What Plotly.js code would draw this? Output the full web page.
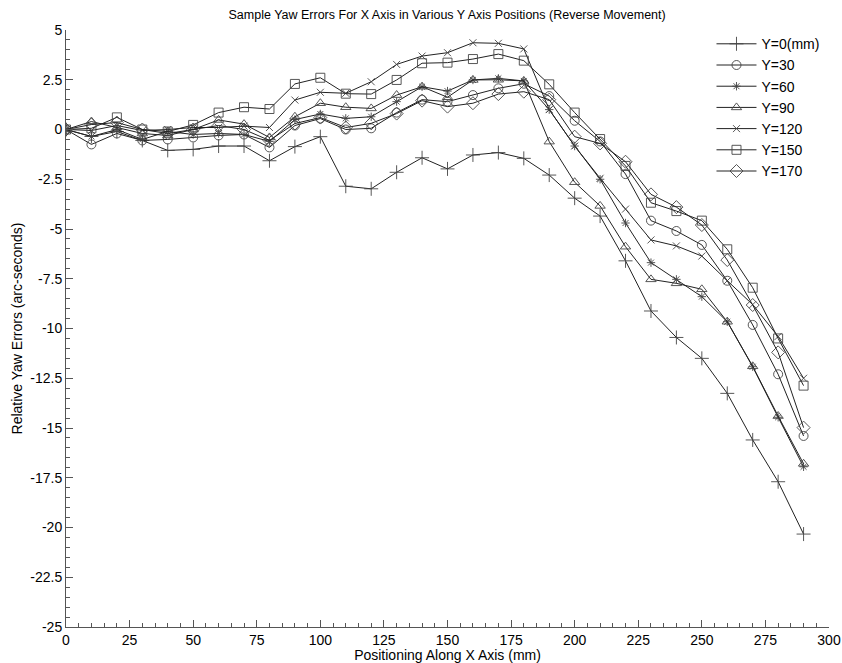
<!DOCTYPE html>
<html>
<head>
<meta charset="utf-8">
<script src="https://cdn.plot.ly/plotly-3.0.1.min.js"></script>
<style>html,body{margin:0;padding:0;background:#fff;}#chart{width:842px;height:663px;}</style>
</head>
<body>
<div id="chart"></div>
<script>
const xPos = [0,10,20,30,40,50,60,70,80,90,100,110,120,130,140,150,160,170,180,190,200,210,220,230,240,250,260,270,280,290];
const seriesNames = ["Y=0(mm)","Y=30","Y=60","Y=90","Y=120","Y=150","Y=170"];
const y0   = [0,-0.35,-0.1,-0.55,-1.05,-1.0,-0.83,-0.83,-1.57,-0.86,-0.36,-2.85,-2.98,-2.15,-1.42,-1.98,-1.28,-1.16,-1.45,-2.29,-3.45,-4.35,-6.6,-9.12,-10.45,-11.5,-13.26,-15.6,-17.7,-20.33];
const y30  = [0,-0.75,-0.2,-0.55,-0.5,-0.4,-0.3,-0.25,-0.9,0.2,0.55,0.0,0.06,0.85,1.5,1.4,1.73,2.07,2.3,1.68,0.44,-0.6,-2.24,-4.58,-5.1,-5.8,-7.6,-9.82,-12.3,-15.4];
const y60  = [0,-0.35,0.0,-0.5,-0.1,-0.25,-0.2,-0.25,-0.6,0.5,0.78,0.56,0.64,1.4,2.15,1.93,2.49,2.57,2.44,1.0,-0.83,-2.5,-4.7,-6.69,-7.53,-8.4,-9.66,-11.92,-14.46,-16.95];
const y90  = [0,0.4,0.1,-0.2,-0.3,0.0,0.48,0.27,-0.4,0.64,1.32,1.12,1.06,1.73,2.15,1.62,2.49,2.5,2.44,-0.61,-2.65,-3.84,-5.89,-7.53,-7.73,-8.03,-9.66,-11.9,-14.4,-16.8];
const y120 = [0,-0.05,0.2,-0.05,0.0,0.1,0.1,0.17,0.1,1.48,1.87,1.82,2.4,3.27,3.69,3.86,4.36,4.33,4.05,1.0,-0.83,-2.45,-4.0,-5.55,-5.85,-6.36,-7.6,-8.8,-10.4,-12.5];
const y150 = [0,0.06,0.61,0.0,-0.1,0.23,0.85,1.12,1.03,2.29,2.6,1.8,1.78,2.49,3.33,3.36,3.54,3.79,3.46,2.27,0.85,-0.48,-1.83,-3.68,-4.1,-4.58,-6.02,-7.95,-10.5,-12.87];
const y170 = [0,0.25,0.35,0.0,-0.2,0.0,0.2,0.0,-0.55,0.3,0.6,0.1,0.31,0.8,1.45,1.15,1.32,1.78,1.9,1.5,-0.36,-0.7,-1.62,-3.26,-3.9,-4.8,-6.56,-8.82,-11.2,-14.98];
const allY = [y0,y30,y60,y90,y120,y150,y170];
const symbols = ["cross-thin-open","circle-open","asterisk-open","triangle-up-open","x-thin-open","square-open","diamond-open"];
const sizes = [10,9,7,9,7,9,10];

const traces = allY.map((ys,i)=>({
  x: xPos, y: ys, name: seriesNames[i], type:'scatter', mode:'lines+markers',
  line:{color:'#222', width:1},
  marker:{symbol:symbols[i], size:sizes[i], color:'#444', line:{color:'#444', width:0.9}}
}));

const layout = {
  width:842, height:663,
  margin:{l:66, r:13, t:30, b:36},
  paper_bgcolor:'#fff', plot_bgcolor:'#fff',
  font:{family:'Liberation Sans, Arial, sans-serif', color:'#000', size:14},
  title:{text:'Sample Yaw Errors For X Axis in Various Y Axis Positions (Reverse Movement)', font:{size:12.5}, x:0.531, xanchor:'center', y:0.978, yanchor:'middle'},
  xaxis:{range:[0,300], tickvals:[0,25,50,75,100,125,150,175,200,225,250,275,300], ticks:'inside', ticklen:7, tickcolor:'#555',
    minor:{dtick:5, ticks:'inside', ticklen:4, tickcolor:'#555'},
    showgrid:false, zeroline:false, showline:true, linecolor:'#555', linewidth:1,
    title:{text:'Positioning Along X Axis (mm)', font:{size:14}, standoff:0}, tickfont:{size:14}},
  yaxis:{range:[-25,5], tickvals:[-25,-22.5,-20,-17.5,-15,-12.5,-10,-7.5,-5,-2.5,0,2.5,5], ticktext:['-25','-22.5','-20','-17.5','-15','-12.5','-10','-7.5','-5','-2.5','0','2.5','5'],
    ticks:'inside', ticklen:7, tickcolor:'#555',
    minor:{dtick:0.5, ticks:'inside', ticklen:4, tickcolor:'#555'},
    showgrid:false, zeroline:false, showline:true, linecolor:'#555', linewidth:1,
    title:{text:'Relative Yaw Errors (arc-seconds)', font:{size:14}, standoff:4}, tickfont:{size:14}},
  showlegend:true,
  legend:{x:0.846, xanchor:'left', y:1.003, yanchor:'top', bgcolor:'rgba(0,0,0,0)', font:{size:14}, tracegroupgap:0, itemwidth:40}
};

Plotly.newPlot('chart', traces, layout, {displayModeBar:false, staticPlot:true});
</script>
</body>
</html>
